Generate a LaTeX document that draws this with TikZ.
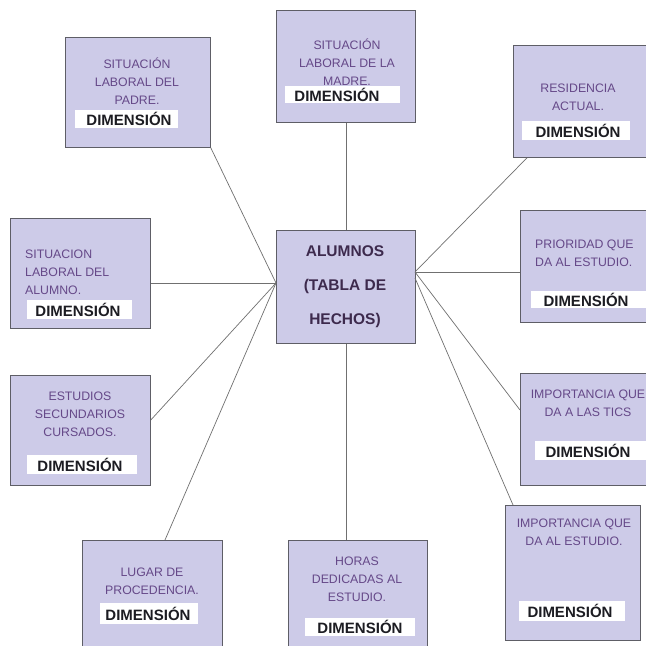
\documentclass[tikz,border=0pt]{standalone}
\usepackage{fontspec}
\setmainfont{Liberation Sans}
\usetikzlibrary{calc}
\definecolor{boxfill}{HTML}{CDCBE8}
\definecolor{boxline}{HTML}{5E5E66}
\definecolor{lbltext}{HTML}{654888}
\definecolor{dimtext}{HTML}{1C1C22}
\definecolor{ctext}{HTML}{3D2A4D}
\definecolor{conn}{HTML}{707070}
\tikzset{
  box/.style={draw=boxline, fill=boxfill, line width=0.8pt, inner sep=0, anchor=north west},
  lbl/.style={font=\fontsize{12.3}{18}\selectfont, text=lbltext, align=center, inner sep=0},
  lblL/.style={lbl, align=left, anchor=west},
  whitebar/.style={fill=white, draw=none, inner sep=0, anchor=north west},
  dimtxt/.style={font=\bfseries\fontsize{15}{16}\selectfont, text=dimtext, inner sep=0},
  ctr/.style={font=\bfseries\fontsize{15.5}{34}\selectfont, text=ctext, align=center, inner sep=0},
  link/.style={draw=conn, line width=0.7pt}
}
\begin{document}
\begin{tikzpicture}[x=1pt,y=-1pt]
\useasboundingbox (0,0) rectangle (646,646);
\clip (0,0) rectangle (646,646);
\fill[white] (0,0) rectangle (646,646);

% boxes
\node[box, minimum width=145pt, minimum height=110pt] (padre) at (65,37) {};
\node[box, minimum width=139pt, minimum height=112pt] (madre) at (276,10) {};
\node[box, minimum width=150pt, minimum height=112pt] (resid) at (513,45) {};
\node[box, minimum width=139pt, minimum height=113pt] (center) at (276,230) {};
\node[box, minimum width=140pt, minimum height=110pt] (alumno) at (10,218) {};
\node[box, minimum width=140pt, minimum height=112pt] (prior) at (520,210) {};
\node[box, minimum width=140pt, minimum height=110pt] (estud) at (10,375) {};
\node[box, minimum width=140pt, minimum height=112pt] (tics) at (520,373) {};
\node[box, minimum width=140pt, minimum height=120pt] (lugar) at (82,540) {};
\node[box, minimum width=139pt, minimum height=120pt] (horas) at (288,540) {};
\node[box, minimum width=135pt, minimum height=135pt] (impest) at (505,505) {};

% connectors
\coordinate (cl) at (276,283);
\coordinate (cr) at (415,272);
\draw[link] (padre.south east) -- (cl);
\draw[link] (madre.south) -- (center.north);
\draw[link] ($(resid.south west)+(14,0)$) -- (cr);
\draw[link] (alumno.east |- cl) -- (cl);
\draw[link] (cr) -- (prior.west |- cr);
\draw[link] ($(estud.north east)+(0,45)$) -- (cl);
\draw[link] ($(tics.north west)+(0,37)$) -- (cr);
\draw[link] ($(lugar.north west)+(83,0)$) -- (cl);
\draw[link] (center.south) -- (center.south |- horas.north);
\draw[link] ($(impest.north west)+(8,0)$) -- ($(cr)+(0,6)$);

% labels
\node[lbl] (tpadre) at (137,81) {SITUACIÓN\\LABORAL DEL\\PADRE.};
\node[whitebar, minimum width=103pt, minimum height=18pt] (wpadre) at (75,110) {};
\node[dimtxt] (dpadre) at (129,119) {DIMENSIÓN};

\node[lbl] (tmadre) at (347,62) {SITUACIÓN\\LABORAL DE LA\\MADRE.};
\node[whitebar, minimum width=115pt, minimum height=17pt] (wmadre) at (285,86) {};
\node[dimtxt] (dmadre) at (337,95) {DIMENSIÓN};

\node[lbl] (tresid) at (578,97) {RESIDENCIA\\ACTUAL.};
\node[whitebar, minimum width=108pt, minimum height=19pt] (wresid) at (522,121) {};
\node[dimtxt] (dresid) at (578,131) {DIMENSIÓN};

\node[ctr] (tcenter) at (345,287) {ALUMNOS\\(TABLA DE\\HECHOS)};

\node[lblL] (talumno) at (25,272) {SITUACION\\LABORAL DEL\\ALUMNO.};
\node[whitebar, minimum width=105pt, minimum height=19pt] (walumno) at (27,300) {};
\node[dimtxt] (dalumno) at (78,310) {DIMENSIÓN};

\node[lblL] (tprior) at (535,253) {PRIORIDAD QUE\\DA AL ESTUDIO.};
\node[whitebar, minimum width=120pt, minimum height=17pt] (wprior) at (531,291) {};
\node[dimtxt] (dprior) at (586,300) {DIMENSIÓN};

\node[lbl] (testud) at (80,414) {ESTUDIOS\\SECUNDARIOS\\CURSADOS.};
\node[whitebar, minimum width=110pt, minimum height=19pt] (westud) at (27,455) {};
\node[dimtxt] (destud) at (80,465) {DIMENSIÓN};

\node[lbl] (ttics) at (588,403) {IMPORTANCIA QUE\\DA A LAS TICS};
\node[whitebar, minimum width=115pt, minimum height=19pt] (wtics) at (535,441) {};
\node[dimtxt] (dtics) at (588,451) {DIMENSIÓN};

\node[lbl] (tlugar) at (152,581) {LUGAR DE\\PROCEDENCIA.};
\node[whitebar, minimum width=98pt, minimum height=21pt] (wlugar) at (100,603) {};
\node[dimtxt] (dlugar) at (148,614) {DIMENSIÓN};

\node[lbl] (thoras) at (357,579) {HORAS\\DEDICADAS AL\\ESTUDIO.};
\node[whitebar, minimum width=110pt, minimum height=18pt] (whoras) at (305,618) {};
\node[dimtxt] (dhoras) at (360,627) {DIMENSIÓN};

\node[lbl] (timpest) at (574,532) {IMPORTANCIA QUE\\DA AL ESTUDIO.};
\node[whitebar, minimum width=106pt, minimum height=20pt] (wimpest) at (519,601) {};
\node[dimtxt] (dimpest) at (570,611) {DIMENSIÓN};
\end{tikzpicture}
\end{document}
